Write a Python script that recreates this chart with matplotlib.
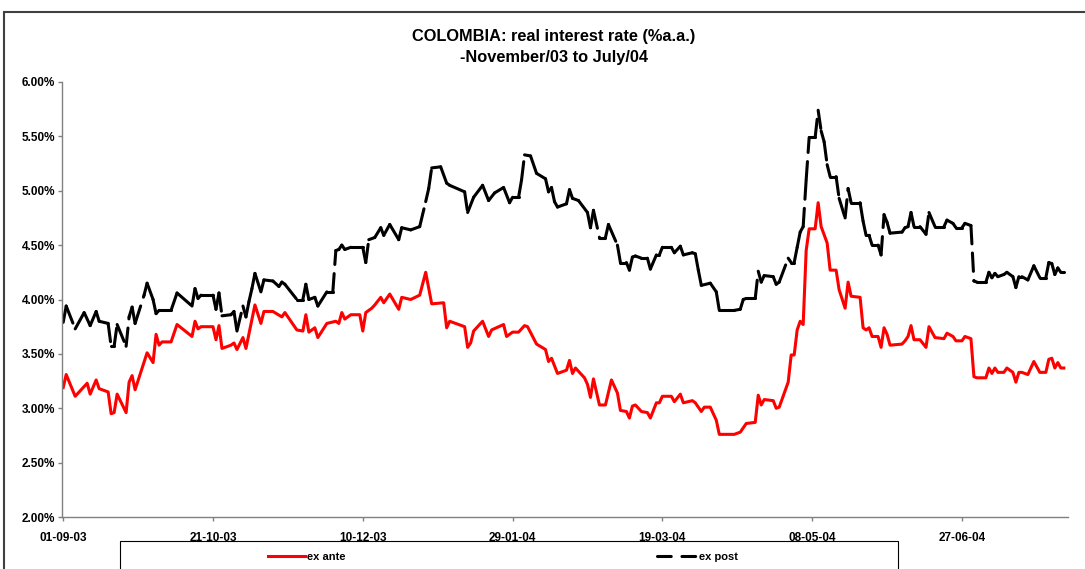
import datetime as dt

import matplotlib
matplotlib.use("Agg")
import matplotlib.pyplot as plt
import numpy as np
from matplotlib.collections import LineCollection
from matplotlib.lines import Line2D
from matplotlib.patches import Rectangle
from matplotlib.ticker import FixedLocator, FuncFormatter

START = dt.date(2003, 9, 1)

# days counted from 01-09-03
ante_days = [0, 1, 4, 8, 9, 11, 12, 15, 16, 17, 18, 21, 22, 23, 24, 28, 30, 31, 32, 33,
             36, 38, 43, 44, 45, 46, 50, 51, 52, 53, 56, 57, 58, 60, 61, 64, 66, 67, 70, 73,
             74, 78, 80, 81, 82, 84, 85, 88, 91, 92, 93, 94, 96, 99, 100, 101, 103, 104, 106, 107,
             109, 112, 113, 116, 119, 121, 123, 127, 128, 129, 134, 135, 136, 137, 140, 142, 143, 147, 148, 150,
             152, 154, 155, 158, 161, 162, 163, 165, 168, 169, 170, 171, 174, 175, 176, 177, 179, 181, 183, 185,
             186, 188, 189, 190, 191, 193, 195, 196, 198, 199, 200, 203, 204, 206, 207, 210, 211, 213, 214, 216,
             218, 219, 224, 226, 228, 231, 232, 233, 234, 237, 238, 239, 242, 243, 244, 245, 246, 247, 248, 249,
             251, 252, 253, 255, 256, 258, 259, 261, 262, 263, 266, 267, 268, 269, 270, 272, 273, 274, 275, 276,
             280, 281, 282, 283, 284, 286, 288, 289, 291, 294, 295, 297, 298, 300, 301, 303, 304, 305, 308, 309,
             310, 311, 312, 314, 315, 317, 318, 319, 320, 322, 324, 326, 328, 329, 330, 331, 332, 333, 334]
ante_rate = [3.19, 3.31, 3.11, 3.23, 3.13, 3.26, 3.18, 3.15, 2.95, 2.96, 3.13, 2.96, 3.24, 3.30, 3.17, 3.51, 3.42, 3.68, 3.58, 3.61,
             3.61, 3.77, 3.66, 3.80, 3.73, 3.75, 3.75, 3.63, 3.76, 3.55, 3.58, 3.60, 3.54, 3.65, 3.55, 3.95, 3.78, 3.89, 3.89, 3.84,
             3.88, 3.72, 3.71, 3.86, 3.70, 3.74, 3.65, 3.78, 3.80, 3.78, 3.88, 3.82, 3.86, 3.86, 3.71, 3.88, 3.92, 3.95, 4.02, 3.97,
             4.05, 3.91, 4.02, 4.00, 4.04, 4.25, 3.96, 3.97, 3.74, 3.80, 3.75, 3.56, 3.60, 3.71, 3.80, 3.66, 3.72, 3.77, 3.66, 3.70,
             3.70, 3.76, 3.75, 3.59, 3.54, 3.43, 3.46, 3.32, 3.35, 3.44, 3.32, 3.37, 3.28, 3.22, 3.10, 3.27, 3.03, 3.03, 3.26, 3.14,
             2.98, 2.97, 2.91, 3.02, 3.03, 2.97, 2.96, 2.91, 3.05, 3.05, 3.11, 3.11, 3.06, 3.13, 3.05, 3.07, 3.05, 2.97, 3.01, 3.01,
             2.89, 2.76, 2.76, 2.78, 2.86, 2.87, 3.12, 3.03, 3.08, 3.07, 3.00, 3.01, 3.24, 3.49, 3.49, 3.72, 3.80, 3.77, 4.45, 4.65,
             4.65, 4.89, 4.67, 4.52, 4.27, 4.27, 4.09, 3.92, 4.16, 4.03, 4.02, 3.74, 3.72, 3.74, 3.66, 3.66, 3.56, 3.74, 3.68, 3.58,
             3.59, 3.62, 3.66, 3.76, 3.63, 3.63, 3.56, 3.75, 3.65, 3.64, 3.69, 3.66, 3.62, 3.62, 3.66, 3.64, 3.29, 3.28, 3.28, 3.37,
             3.32, 3.37, 3.33, 3.33, 3.37, 3.33, 3.24, 3.33, 3.33, 3.31, 3.43, 3.33, 3.33, 3.45, 3.46, 3.37, 3.42, 3.37, 3.37]

post_days = [0, 1, 4, 7, 9, 11, 12, 15, 16, 17, 18, 21, 22, 23, 24, 27, 28, 30, 31, 32,
             36, 38, 43, 44, 45, 46, 50, 51, 52, 53, 56, 57, 58, 60, 61, 62, 63, 64, 66, 67,
             70, 72, 73, 74, 78, 80, 81, 82, 84, 85, 88, 90, 91, 92, 93, 94, 96, 100, 101, 102,
             104, 106, 107, 109, 112, 113, 116, 119, 121, 122, 123, 126, 128, 129, 134, 135, 137, 140, 142, 144,
             147, 149, 150, 152, 153, 154, 156, 158, 161, 162, 163, 164, 165, 168, 169, 170, 172, 175, 176, 177,
             179, 181, 182, 185, 186, 188, 189, 190, 191, 193, 195, 196, 198, 199, 200, 203, 204, 206, 207, 210,
             211, 212, 213, 216, 218, 219, 224, 226, 227, 228, 231, 232, 233, 234, 237, 238, 239, 242, 243, 244,
             245, 246, 247, 248, 249, 251, 252, 253, 254, 255, 256, 258, 259, 261, 262, 263, 266, 267, 268, 269,
             270, 272, 273, 274, 275, 276, 280, 281, 282, 283, 284, 286, 288, 289, 291, 294, 295, 297, 298, 300,
             301, 303, 304, 305, 308, 309, 310, 311, 312, 314, 315, 317, 318, 319, 320, 322, 324, 326, 328, 329,
             330, 331, 332, 333, 334]
post_rate = [3.79, 3.94, 3.73, 3.88, 3.76, 3.89, 3.80, 3.78, 3.57, 3.57, 3.77, 3.57, 3.84, 3.93, 3.78, 4.04, 4.15, 4.00, 3.87, 3.90,
             3.90, 4.06, 3.94, 4.10, 4.01, 4.04, 4.04, 3.91, 4.06, 3.85, 3.86, 3.89, 3.71, 3.94, 3.84, 3.98, 4.10, 4.24, 4.07, 4.18,
             4.17, 4.12, 4.16, 4.14, 4.00, 4.00, 4.14, 4.00, 4.02, 3.94, 4.07, 4.07, 4.45, 4.46, 4.50, 4.46, 4.48, 4.48, 4.34, 4.55,
             4.57, 4.66, 4.59, 4.69, 4.55, 4.66, 4.64, 4.67, 4.90, 5.02, 5.21, 5.22, 5.07, 5.05, 4.99, 4.80, 4.94, 5.05, 4.91, 4.98,
             5.03, 4.89, 4.94, 4.94, 5.10, 5.33, 5.32, 5.16, 5.11, 4.99, 5.03, 4.90, 4.85, 4.88, 5.01, 4.93, 4.91, 4.80, 4.66, 4.82,
             4.57, 4.57, 4.69, 4.50, 4.34, 4.34, 4.27, 4.39, 4.40, 4.38, 4.38, 4.28, 4.41, 4.41, 4.48, 4.48, 4.43, 4.49, 4.41, 4.43,
             4.42, 4.27, 4.13, 4.15, 4.07, 3.90, 3.90, 3.91, 4.00, 4.01, 4.01, 4.26, 4.16, 4.22, 4.21, 4.14, 4.16, 4.38, 4.34, 4.34,
             4.48, 4.62, 4.67, 5.10, 5.49, 5.49, 5.74, 5.55, 5.45, 5.24, 5.13, 5.13, 4.93, 4.75, 5.02, 4.89, 4.89, 4.72, 4.59, 4.59,
             4.50, 4.50, 4.41, 4.78, 4.71, 4.61, 4.62, 4.66, 4.67, 4.80, 4.67, 4.67, 4.60, 4.80, 4.67, 4.67, 4.73, 4.70, 4.66, 4.66,
             4.70, 4.68, 4.17, 4.16, 4.16, 4.25, 4.20, 4.24, 4.21, 4.23, 4.25, 4.21, 4.11, 4.21, 4.21, 4.18, 4.31, 4.20, 4.20, 4.34,
             4.33, 4.23, 4.29, 4.25, 4.25]

tick_days = [0, 50, 100, 150, 200, 250, 300]
y_ticks = [2.0, 2.5, 3.0, 3.5, 4.0, 4.5, 5.0, 5.5, 6.0]

plt.rcParams['font.family'] = ['Liberation Sans', 'DejaVu Sans']
plt.rcParams['font.weight'] = 'bold'

W, H = 1085, 569
fig = plt.figure(figsize=(W / 100, H / 100), dpi=100)
ax = fig.add_axes([62 / W, 52 / H, 1006 / W, 435 / H])

LW = 2.2

ax.plot(ante_days, ante_rate, color='#ff0000', lw=LW, solid_joinstyle='round')

# excel restarts the dash pattern on every segment, so draw them one by one
pts = np.column_stack([post_days, post_rate])
segs = np.stack([pts[:-1], pts[1:]], axis=1)
lc = LineCollection(segs, colors='black', linewidths=LW, linestyles=[(0, (6, 3))],
                    capstyle='round')
ax.add_collection(lc)

ax.set_xlim(-0.4, 335.4)
ax.set_ylim(2.0, 6.0)
ax.xaxis.set_major_locator(FixedLocator(tick_days))
ax.xaxis.set_major_formatter(FuncFormatter(
    lambda d, _: (START + dt.timedelta(days=int(round(d)))).strftime('%d-%m-%y')))
ax.yaxis.set_major_locator(FixedLocator(y_ticks))
ax.yaxis.set_major_formatter(FuncFormatter(lambda v, _: f'{v:.2f}%'))

for side in ('top', 'right'):
    ax.spines[side].set_visible(False)
for side in ('left', 'bottom'):
    ax.spines[side].set_color('#808080')
    ax.spines[side].set_linewidth(1.0)
ax.tick_params(axis='both', colors='#808080', labelcolor='black', labelsize=8.5,
               length=3, width=1, direction='out')
ax.tick_params(axis='y', pad=2)
ax.tick_params(axis='x', pad=7.5)

fig.text(554 / W, 1 - 37 / H, 'COLOMBIA: real interest rate (%a.a.)',
         ha='center', va='center', fontsize=11.8, fontweight='bold')
fig.text(554 / W, 1 - 57 / H, '-November/03 to July/04',
         ha='center', va='center', fontsize=11.8, fontweight='bold')

# chart frame and legend box
fig.add_artist(Rectangle((4 / W, -0.1), 2.0, (H - 12) / H + 0.1, transform=fig.transFigure,
                         fill=False, edgecolor='#404040', lw=1.5, clip_on=False))
fig.add_artist(Rectangle((120 / W, -0.1), 778 / W, (H - 541) / H + 0.1,
                         transform=fig.transFigure, fill=False, edgecolor='black',
                         lw=0.8, clip_on=False))

h_ante = Line2D([], [], color='#ff0000', lw=LW)
h_post = Line2D([], [], color='black', lw=LW, linestyle=(0, (4.5, 3.5)),
                dash_capstyle='round')
leg_y = 1 - 557 / H
for handle, label, x0, hl in [(h_ante, 'ex ante', 268, 3.3), (h_post, 'ex post', 657, 3.6)]:
    fig.legend(handles=[handle], labels=[label], loc='center left',
               bbox_to_anchor=(x0 / W, leg_y), frameon=False, borderpad=0,
               borderaxespad=0, handlelength=hl, handletextpad=0.2,
               prop={'size': 8, 'weight': 'bold'})

fig.savefig('out.png', dpi=100)
